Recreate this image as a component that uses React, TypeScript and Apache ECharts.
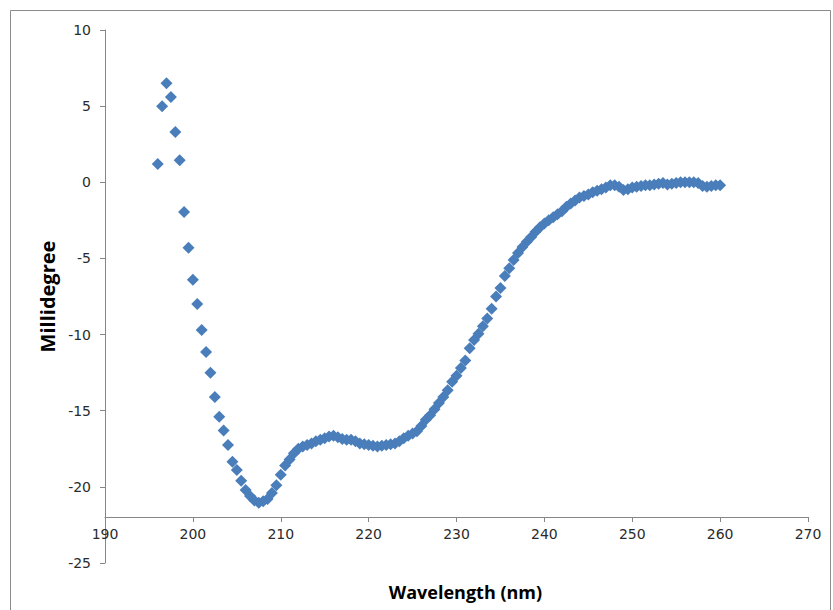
import React, { useEffect, useRef } from "react";
import * as echarts from "echarts";

const wavelength: number[] = [
  196.0, 196.5, 197.0, 197.5, 198.0, 198.5, 199.0, 199.5, 200.0, 200.5,
  201.0, 201.5, 202.0, 202.5, 203.0, 203.5, 204.0, 204.5, 205.0, 205.5,
  206.0, 206.5, 207.0, 207.5, 208.0, 208.5, 209.0, 209.5, 210.0, 210.5,
  211.0, 211.5, 212.0, 212.5, 213.0, 213.5, 214.0, 214.5, 215.0, 215.5,
  216.0, 216.5, 217.0, 217.5, 218.0, 218.5, 219.0, 219.5, 220.0, 220.5,
  221.0, 221.5, 222.0, 222.5, 223.0, 223.5, 224.0, 224.5, 225.0, 225.5,
  226.0, 226.5, 227.0, 227.5, 228.0, 228.5, 229.0, 229.5, 230.0, 230.5,
  231.0, 231.5, 232.0, 232.5, 233.0, 233.5, 234.0, 234.5, 235.0, 235.5,
  236.0, 236.5, 237.0, 237.5, 238.0, 238.5, 239.0, 239.5, 240.0, 240.5,
  241.0, 241.5, 242.0, 242.5, 243.0, 243.5, 244.0, 244.5, 245.0, 245.5,
  246.0, 246.5, 247.0, 247.5, 248.0, 248.5, 249.0, 249.5, 250.0, 250.5,
  251.0, 251.5, 252.0, 252.5, 253.0, 253.5, 254.0, 254.5, 255.0, 255.5,
  256.0, 256.5, 257.0, 257.5, 258.0, 258.5, 259.0, 259.5, 260.0,
];

const millidegree: number[] = [
  1.2, 5.0, 6.5, 5.6, 3.3, 1.45, -1.95, -4.3, -6.4, -8.0,
  -9.7, -11.15, -12.5, -14.1, -15.4, -16.3, -17.25, -18.35, -18.9, -19.6,
  -20.2, -20.6, -20.9, -21.05, -20.95, -20.8, -20.4, -19.9, -19.2, -18.6,
  -18.2, -17.8, -17.5, -17.35, -17.25, -17.15, -17.0, -16.9, -16.8, -16.7,
  -16.65, -16.75, -16.85, -16.9, -16.9, -17.0, -17.15, -17.2, -17.25, -17.3,
  -17.35, -17.3, -17.25, -17.2, -17.15, -17.0, -16.8, -16.65, -16.5, -16.35,
  -16.0, -15.6, -15.3, -14.9, -14.5, -14.1, -13.65, -13.1, -12.7, -12.2,
  -11.7, -10.9, -10.35, -9.95, -9.45, -8.95, -8.3, -7.5, -6.95, -6.15,
  -5.65, -5.1, -4.65, -4.25, -3.9, -3.6, -3.25, -2.95, -2.7, -2.5,
  -2.3, -2.1, -1.9, -1.6, -1.4, -1.2, -1.0, -0.9, -0.8, -0.65,
  -0.55, -0.45, -0.35, -0.2, -0.2, -0.3, -0.5, -0.45, -0.35, -0.3,
  -0.25, -0.2, -0.2, -0.15, -0.1, -0.05, -0.15, -0.1, -0.05, 0.0,
  0.0, 0.0, 0.0, -0.05, -0.25, -0.3, -0.25, -0.2, -0.2,
];

const xTitle = "Wavelength (nm)";
const yTitle = "Millidegree";

export default function App() {
  const ref = useRef<HTMLDivElement>(null);

  useEffect(() => {
    if (!ref.current) return;
    const chart = echarts.init(ref.current, undefined, { renderer: "svg" });
    const points = wavelength.map((w, i) => [w, millidegree[i]]);
    const axisColor = "#868686";
    chart.setOption({
      animation: false,
      backgroundColor: "#ffffff",
      graphic: [
        {
          type: "rect",
          shape: { x: 10.5, y: 10.5, width: 820, height: 640 },
          style: { fill: "none", stroke: "#8c8c8c", lineWidth: 1 },
          silent: true,
        },
      ],
      grid: { left: 105, right: 25, top: 30, bottom: 47 },
      xAxis: {
        type: "value",
        min: 190,
        max: 270,
        interval: 10,
        offset: -46,
        name: xTitle,
        nameLocation: "middle",
        nameGap: 66,
        nameTextStyle: {
          fontFamily: "Open Sans",
          fontWeight: "bold",
          fontSize: 18,
          color: "#000000",
          padding: [0, 0, 0, 18],
        },
        axisLine: { show: true, onZero: false, lineStyle: { color: axisColor, width: 1 } },
        axisTick: { show: true, inside: false, length: 5, lineStyle: { color: axisColor } },
        axisLabel: {
          margin: 10,
          fontFamily: "DejaVu Sans",
          fontSize: 14,
          color: "#2b2b2b",
        },
        splitLine: { show: false },
      },
      yAxis: {
        type: "value",
        min: -25,
        max: 10,
        interval: 5,
        name: yTitle,
        nameLocation: "middle",
        nameGap: 47,
        nameRotate: 90,
        nameTextStyle: {
          fontFamily: "Open Sans",
          fontWeight: "bold",
          fontSize: 20,
          color: "#000000",
        },
        axisLine: { show: true, onZero: false, lineStyle: { color: axisColor, width: 1 } },
        axisTick: { show: true, inside: false, length: 5, lineStyle: { color: axisColor } },
        axisLabel: {
          margin: 14,
          fontFamily: "DejaVu Sans",
          fontSize: 14,
          color: "#2b2b2b",
        },
        splitLine: { show: false },
      },
      series: [
        {
          type: "scatter",
          data: points,
          symbol: "diamond",
          symbolSize: 12,
          itemStyle: { color: "#4A7EBB", opacity: 1 },
        },
      ],
    });
    return () => chart.dispose();
  }, []);

  return (
    <div
      ref={ref}
      style={{ position: "fixed", left: 0, top: 0, width: 833, height: 610 }}
    />
  );
}
